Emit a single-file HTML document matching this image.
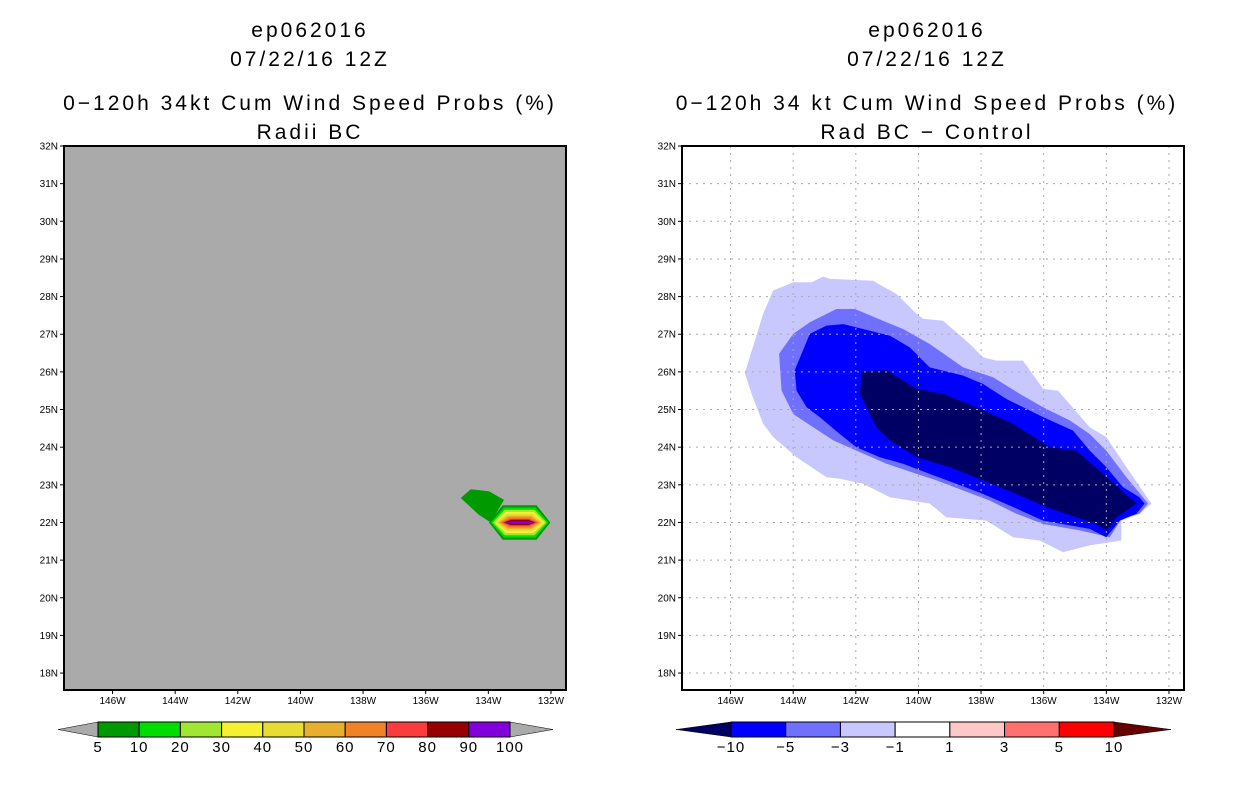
<!DOCTYPE html>
<html><head><meta charset="utf-8"><style>
body{margin:0;background:#fff;width:1236px;height:800px;overflow:hidden}
svg{display:block}
text{font-family:"Liberation Sans",sans-serif}
</style></head><body>
<svg id="chart" width="1236" height="800" xmlns="http://www.w3.org/2000/svg">
<g id="left"></g>
<g id="right"></g>
</svg>
<script>
// ---- data ----
const latTicks = [32,31,30,29,28,27,26,25,24,23,22,21,20,19,18];
const lonTicks = [146,144,142,140,138,136,134,132];
const leftLevels = [5,10,20,30,40,50,60,70,80,90];
const leftColors = ["#009900","#00dc00","#a0e632","#f5f032","#e6dc32","#e6af2d","#f08228","#fa3c3c","#960000","#8200dc"];
const leftCenter = [133.0, 22.0];
const leftHalfLon = [0.98,0.92,0.86,0.80,0.74,0.68,0.62,0.56,0.50,0.46];
const leftHalfLat = [0.46,0.40,0.34,0.28,0.23,0.18,0.14,0.10,0.07,0.035];
const leftTail = [[134.88,22.65],[134.56,22.88],[133.98,22.83],[133.50,22.6],[133.92,22.0],[134.30,22.2]];
const leftBarLabels = ["5","10","20","30","40","50","60","70","80","90","100"];
const rightLevels = ["-10","-5","-3","-1","1","3","5","10"];
const rightColors = ["#000064","#0000ff","#7070ff","#c8c8ff","#ffffff","#ffc8c8","#ff7070","#ff0000"];
const contourM1 = [[145.54,25.97],[144.96,27.54],[144.64,28.16],[144.0,28.38],[143.41,28.38],[143.04,28.53],[142.83,28.47],[141.45,28.42],[140.70,28.07],[140.06,27.54],[139.85,27.41],[139.21,27.36],[138.36,26.74],[137.94,26.39],[137.51,26.30],[136.66,26.30],[136.02,25.55],[135.54,25.50],[134.53,24.53],[134.0,24.27],[133.36,23.47],[132.56,22.50],[132.94,22.23],[133.52,22.05],[133.52,21.52],[134.53,21.39],[135.38,21.21],[136.13,21.52],[136.98,21.61],[137.83,22.05],[139.11,22.14],[139.64,22.50],[140.91,22.67],[141.77,23.03],[142.51,23.16],[142.94,23.20],[143.89,23.73],[144.64,24.27],[144.96,24.62],[145.33,25.42]];
const contourM3 = [[144.45,26.48],[144.0,27.01],[143.47,27.32],[142.62,27.67],[142.03,27.67],[141.02,27.32],[140.49,27.14],[139.64,26.74],[138.57,26.12],[137.62,25.86],[136.77,25.42],[136.02,25.06],[135.17,24.71],[134.53,24.35],[134.0,23.91],[133.36,23.20],[132.83,22.67],[132.67,22.50],[132.94,22.23],[133.52,22.10],[133.89,21.61],[134.85,21.79],[136.02,21.96],[136.87,22.23],[137.72,22.58],[138.57,22.85],[139.43,23.12],[140.06,23.29],[141.02,23.56],[141.98,23.91],[142.72,24.18],[143.36,24.53],[144.0,24.88],[144.37,25.50]];
const contourM5 = [[143.95,26.04],[143.47,27.01],[142.94,27.23],[142.40,27.27],[141.77,27.14],[140.91,26.96],[140.28,26.65],[139.64,26.12],[138.57,25.90],[137.94,25.68],[137.19,25.28],[136.02,24.80],[135.06,24.44],[134.53,23.91],[134.0,23.47],[133.47,22.94],[132.94,22.67],[132.78,22.50],[133.04,22.23],[133.57,22.05],[134.0,21.61],[134.53,21.83],[136.02,22.05],[136.98,22.41],[137.94,22.76],[138.79,23.03],[139.64,23.29],[140.49,23.56],[141.23,23.73],[141.98,24.0],[142.51,24.35],[143.15,24.80],[143.57,25.06],[143.89,25.50]];
const contourM10 = [[141.82,25.95],[141.77,26.02],[141.02,26.04],[140.06,25.55],[139.21,25.42],[138.04,25.02],[136.98,24.62],[135.81,24.0],[134.96,23.91],[134.11,23.29],[133.04,22.50],[133.36,22.32],[133.68,22.14],[134.0,21.79],[134.32,21.96],[134.96,22.14],[135.91,22.41],[136.87,22.76],[137.94,23.12],[139.0,23.47],[140.04,23.73],[140.91,24.18],[141.34,24.53],[141.87,25.42]];

// ---- helpers ----
const NS="http://www.w3.org/2000/svg";
function mk(parent,tag,attrs,txt){const e=document.createElementNS(NS,tag);for(const k in attrs)e.setAttribute(k,attrs[k]);if(txt!==undefined)e.textContent=txt;parent.appendChild(e);return e;}
const LON0=147.55, LON1=131.52, LAT0=17.55, LAT1=32;
function axes(x0){const x1=x0+502,y0=146,y1=690;
  return {x0,x1,y0,y1,
    X:lon=>x0+(LON0-lon)/(LON0-LON1)*(x1-x0),
    Y:lat=>y1-(lat-LAT0)/(LAT1-LAT0)*(y1-y0)};}
function pts(ax,arr){return arr.map(p=>ax.X(p[0]).toFixed(1)+","+ax.Y(p[1]).toFixed(1)).join(" ");}

function titles(g,cx,lines){
  const ys=[37,66,110,139];
  lines.forEach((t,i)=>{const e=mk(g,"text",{x:cx,y:ys[i],"text-anchor":"middle","font-size":"21","letter-spacing":"3"},t);
    
    });
}
function frameAndTicks(g,ax,grid){
  if(grid){
    latTicks.forEach(l=>{const e=mk(g,"line",{x1:ax.x0,x2:ax.x1,y1:ax.Y(l),y2:ax.Y(l),stroke:"#aaa","stroke-dasharray":"2,5"});
      });
    lonTicks.forEach(l=>{const e=mk(g,"line",{y1:ax.y0,y2:ax.y1,x1:ax.X(l),x2:ax.X(l),stroke:"#aaa","stroke-dasharray":"2,5"});
      });
  }
  const f=mk(g,"rect",{x:ax.x0,y:ax.y0,width:ax.x1-ax.x0,height:ax.y1-ax.y0,fill:"none",stroke:"#000","stroke-width":"2"});
  
  latTicks.forEach(l=>{const y=ax.Y(l);
    mk(g,"line",{x1:ax.x0-4,x2:ax.x0,y1:y,y2:y,stroke:"#000"});
    const t=mk(g,"text",{x:ax.x0-6,y:y+3.5,"text-anchor":"end","font-size":"10"},l+"N");
    });
  lonTicks.forEach(l=>{const x=ax.X(l);
    mk(g,"line",{x1:x,x2:x,y1:ax.y1,y2:ax.y1+4,stroke:"#000"});
    const t=mk(g,"text",{x:x,y:ax.y1+14,"text-anchor":"middle","font-size":"10"},l+"W");
    });
}
function colorbar(g,x0,x1,colors,labels,leftTri,rightTri,tl,tr){
  const n=colors.length,w=(x1-x0)/n,y0=722,y1=737,ym=(y0+y1)/2;
  const a=mk(g,"polygon",{points:`${tl},${ym} ${x0},${y0} ${x0},${y1}`,fill:leftTri,stroke:"#000","stroke-width":"0.5"});
  
  const b=mk(g,"polygon",{points:`${tr},${ym} ${x1},${y0} ${x1},${y1}`,fill:rightTri,stroke:"#000","stroke-width":"0.5"});
  
  colors.forEach((c,i)=>{const r=mk(g,"rect",{x:x0+i*w,y:y0,width:w,height:y1-y0,fill:c,stroke:"#000","stroke-width":"1"});
    });
  labels.forEach((l,i)=>{const t=mk(g,"text",{x:x0+i*w,y:752,"text-anchor":"middle","font-size":"15","letter-spacing":"1"},l.replace("-","\u2212"));
    });
}

// ---- left panel ----
(function(){
  const g=document.getElementById("left"), ax=axes(64);
  titles(g,310,["ep062016","07/22/16 12Z","0\u2212120h 34kt Cum Wind Speed Probs (%)","Radii BC"]);
  const bg=mk(g,"rect",{x:ax.x0,y:ax.y0,width:ax.x1-ax.x0,height:ax.y1-ax.y0,fill:"#aaaaaa"});
  
  const tail=mk(g,"polygon",{points:pts(ax,leftTail),fill:leftColors[0]});
  
  leftLevels.forEach((v,i)=>{
    const cx=leftCenter[0],cy=leftCenter[1],hl=leftHalfLon[i],ht=leftHalfLat[i],fl=hl*0.55;
    const hex=[[cx+hl,cy],[cx+fl,cy+ht],[cx-fl,cy+ht],[cx-hl,cy],[cx-fl,cy-ht],[cx+fl,cy-ht]];
    const p=mk(g,"polygon",{points:pts(ax,hex),fill:leftColors[i]});
    
    
  });
  frameAndTicks(g,ax,false);
  colorbar(g,98,510,leftColors,leftBarLabels,"#aaaaaa","#aaaaaa",58,553);
})();

// ---- right panel ----
(function(){
  const g=document.getElementById("right"), ax=axes(682);
  titles(g,927,["ep062016","07/22/16 12Z","0\u2212120h 34 kt Cum Wind Speed Probs (%)","Rad BC \u2212 Control"]);
  [[contourM1,"#c8c8ff","-1"],[contourM3,"#7070ff","-3"],[contourM5,"#0000ff","-5"],[contourM10,"#000064","-10"]].forEach(c=>{
    const p=mk(g,"polygon",{points:pts(ax,c[0]),fill:c[1]});
    
    
  });
  frameAndTicks(g,ax,true);
  colorbar(g,731,1114,rightColors.slice(1),rightLevels,"#000064","#640000",676,1171);
})();
</script>
</body></html>
